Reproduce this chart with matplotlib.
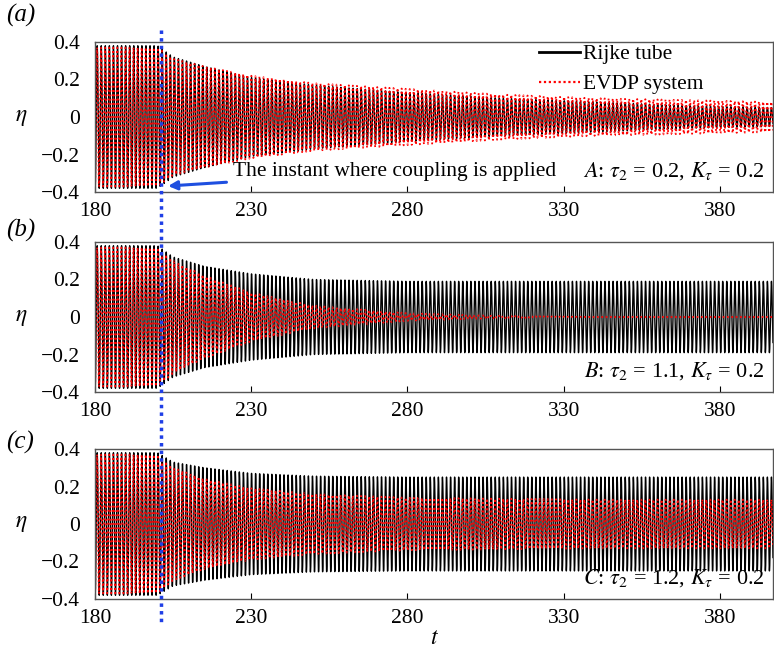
import numpy as np
import matplotlib
matplotlib.use("Agg")
import matplotlib.pyplot as plt

plt.rcParams['font.family'] = ['Liberation Serif', 'DejaVu Serif']
plt.rcParams['mathtext.fontset'] = 'stix'

# ---- data (envelopes) ----
t_start, t_end = 180.0, 397.0
t_couple = 201.0
period_rijke = 1.3           # oscillation period (time units)
period_evdp = 1.3

panel_letters = ['(a)', '(b)', '(c)']
panel_notes = [r'$A$: $\tau_2$ = 0.2, $K_\tau$ = 0.2',
               r'$B$: $\tau_2$ = 1.1, $K_\tau$ = 0.2',
               r'$C$: $\tau_2$ = 1.2, $K_\tau$ = 0.2']

env_t = [180, 200, 205, 215, 230, 250, 280, 310, 340, 370, 397]
rijke_env_a = [0.38, 0.38, 0.32, 0.27, 0.21, 0.17, 0.13, 0.10, 0.08, 0.06, 0.05]
evdp_env_a  = [0.37, 0.37, 0.31, 0.27, 0.22, 0.18, 0.15, 0.12, 0.10, 0.09, 0.08]
rijke_env_b = [0.38, 0.38, 0.32, 0.27, 0.23, 0.20, 0.19, 0.19, 0.19, 0.19, 0.19]
evdp_env_b  = [0.37, 0.37, 0.30, 0.22, 0.13, 0.06, 0.02, 0.005, 0.0, 0.0, 0.0]
rijke_env_c = [0.38, 0.38, 0.33, 0.30, 0.27, 0.255, 0.25, 0.25, 0.25, 0.25, 0.25]
evdp_env_c  = [0.37, 0.37, 0.30, 0.24, 0.19, 0.16, 0.14, 0.135, 0.13, 0.13, 0.13]

rijke_envs = [rijke_env_a, rijke_env_b, rijke_env_c]
evdp_envs = [evdp_env_a, evdp_env_b, evdp_env_c]

xticks = [180, 230, 280, 330, 380]
yticks = [-0.4, -0.2, 0.0, 0.2, 0.4]
ytick_labels = ['\u22120.4', '\u22120.2', '0', '0.2', '0.4']

# ---- figure ----
W, H = 774, 654
fig = plt.figure(figsize=(W / 100, H / 100), dpi=100)

left = 95 / W
right = 773 / W
tops = [42, 242, 449]
bottoms = [192, 392, 599]
letter_y = [15, 230, 442]
FS = 15.5

t = np.arange(t_start, t_end, 0.01)
axes = []
for i in range(3):
    ax = fig.add_axes([left, 1 - bottoms[i] / H, right - left, (bottoms[i] - tops[i]) / H])
    axes.append(ax)
    er = np.interp(t, env_t, rijke_envs[i])
    ee = np.interp(t, env_t, evdp_envs[i])
    yr = er * np.cos(2 * np.pi * t / period_rijke)
    ye = ee * np.cos(2 * np.pi * t / period_evdp + 0.3)
    ax.plot(t, yr, color='black', lw=1.0, label='Rijke tube')
    ax.plot(t, ye, color='red', lw=1.3, ls=(0, (1, 1.4)), label='EVDP system')
    ax.set_xlim(t_start, t_end)
    ax.set_ylim(-0.4, 0.4)
    ax.set_xticks(xticks)
    ax.set_xticklabels([str(x) for x in xticks])
    ax.set_yticks(yticks)
    ax.set_yticklabels(ytick_labels)
    ax.tick_params(direction='in', labelsize=FS, length=4, width=0.8)
    ax.tick_params(axis='x', pad=7)
    ax.tick_params(axis='y', left=False, pad=11)
    for s in ax.spines.values():
        s.set_color('#555555')
        s.set_linewidth(1.0)
    ax.set_ylabel(r'$\eta$', fontsize=17, rotation=0, labelpad=14, va='center')
    fig.text(6 / W, 1 - letter_y[i] / H, panel_letters[i], fontsize=18,
             style='italic', va='center', ha='left')
    ax.text(0.988, 0.065, panel_notes[i], transform=ax.transAxes, ha='right',
            va='bottom', fontsize=16)

leg = axes[0].legend(loc='upper left', frameon=False, fontsize=FS, handlelength=1.9,
                     handletextpad=0.15, borderaxespad=0.0, borderpad=0.0,
                     labelspacing=0.45, bbox_to_anchor=(0.655, 0.985))
leg.get_lines()[0].set_linewidth(2.0)
leg.get_lines()[1].set_linewidth(1.6)
leg.get_lines()[1].set_linestyle((0, (1, 1.2)))

# annotation in panel (a)
axes[0].annotate('The instant where coupling is applied', xy=(203.4, -0.368),
                 xytext=(224.3, -0.29), fontsize=FS, va='center', ha='left',
                 arrowprops=dict(arrowstyle='-|>', color='#1f4fe0', lw=2.2,
                                 shrinkA=3, shrinkB=0, mutation_scale=13))

axes[2].set_xlabel(r'$t$', fontsize=17, labelpad=0)

# blue dotted vertical line across all panels
x_pix = left + (t_couple - t_start) / (t_end - t_start) * (right - left)
fig.add_artist(plt.Line2D([x_pix, x_pix], [1 - 30 / H, 1 - 622 / H],
                          transform=fig.transFigure, color='#1f3fe6', lw=2.5,
                          ls=(0, (1, 1.2))))

fig.savefig('out.png', dpi=100)
